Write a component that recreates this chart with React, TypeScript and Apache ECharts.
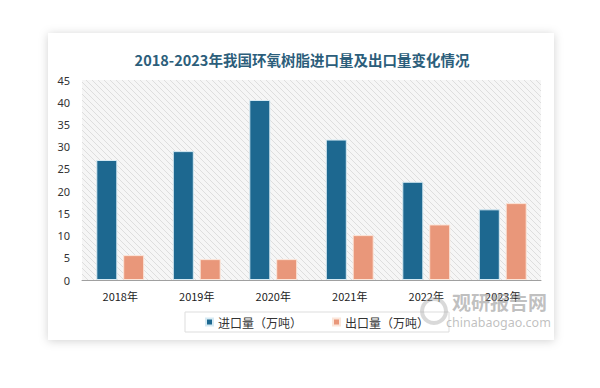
import React, { useEffect, useRef } from "react";
import * as echarts from "echarts";

const categories = ["2018年", "2019年", "2020年", "2021年", "2022年", "2023年"];
const importValues = [27.0, 29.0, 40.5, 31.6, 22.1, 15.9];
const exportValues = [5.6, 4.7, 4.7, 10.1, 12.5, 17.3];
const seriesNames = ["进口量（万吨）", "出口量（万吨）"];
const titleText = "2018-2023年我国环氧树脂进口量及出口量变化情况";

function hatchPattern(): string {
  const c = document.createElement("canvas");
  c.width = 6;
  c.height = 6;
  const ctx = c.getContext("2d");
  if (!ctx) return "";
  ctx.fillStyle = "#f6f6f6";
  ctx.fillRect(0, 0, 6, 6);
  ctx.strokeStyle = "#dedede";
  ctx.lineWidth = 1;
  ctx.beginPath();
  ctx.moveTo(-1, -1);
  ctx.lineTo(7, 7);
  ctx.moveTo(-1, 5);
  ctx.lineTo(1, 7);
  ctx.moveTo(5, -1);
  ctx.lineTo(7, 1);
  ctx.stroke();
  return c.toDataURL();
}

export default function App() {
  const ref = useRef<HTMLDivElement>(null);
  useEffect(() => {
    if (!ref.current) return;
    const chart = echarts.init(ref.current, undefined, { renderer: "svg" });
    const pat = hatchPattern();
    chart.setOption({
      animation: false,
      backgroundColor: "#ffffff",
      title: {
        text: titleText,
        left: 297,
        textAlign: "center",
        top: 47,
        textStyle: {
          fontSize: 14.5,
          fontWeight: "bold",
          color: "#2C5E7B",
          fontFamily: "Noto Sans CJK SC",
        },
      },
      grid: {
        left: 82,
        right: 59,
        top: 80,
        bottom: 108,
        show: true,
        borderWidth: 0,
        backgroundColor: pat ? { image: pat, repeat: "repeat" } : "#f2f2f2",
      },
      legend: {
        data: seriesNames,
        left: 185,
        top: 312,
        width: 232,
        itemWidth: 7,
        itemHeight: 7,
        icon: "rect",
        itemGap: 30,
        borderColor: "#dddddd",
        borderWidth: 1,
        padding: [4, 20, 4, 20],
        textStyle: { fontSize: 12, color: "#333", fontFamily: "Noto Sans CJK SC" },
      },
      xAxis: {
        type: "category",
        data: categories,
        axisLine: { lineStyle: { color: "#a0a0a0" } },
        axisTick: { show: false },
        axisLabel: { color: "#222", fontSize: 11, margin: 10, fontFamily: "Noto Sans CJK SC" },
      },
      yAxis: {
        type: "value",
        min: 0,
        max: 45,
        interval: 5,
        splitLine: { show: false },
        axisLine: { show: false },
        axisTick: { show: false },
        axisLabel: { color: "#333", fontSize: 11, margin: 12, fontFamily: "Noto Sans" },
      },
      series: [
        {
          name: seriesNames[0],
          type: "bar",
          data: importValues,
          barWidth: 21,
          barGap: "28%",
          itemStyle: { color: "#1D6890", borderColor: "#d6eaf3", borderWidth: 1 },
        },
        {
          name: seriesNames[1],
          type: "bar",
          data: exportValues,
          barWidth: 21,
          itemStyle: { color: "#E9977A", borderColor: "#fbe6da", borderWidth: 1 },
        },
      ],
      graphic: [
        {
          type: "rect",
          z: -10,
          silent: true,
          shape: { x: 48, y: 33, width: 506, height: 307 },
          style: {
            fill: "#ffffff",
            shadowBlur: 10,
            shadowColor: "rgba(0,0,0,0.18)",
            shadowOffsetX: 0,
            shadowOffsetY: 1,
          },
        },
        {
          type: "ring",
          z: 100,
          silent: true,
          shape: { cx: 434, cy: 311, r: 14, r0: 10 },
          style: { fill: "rgba(170,170,170,0.45)" },
        },
        {
          type: "text",
          z: 100,
          silent: true,
          left: 452,
          top: 292,
          style: {
            text: "观研报告网",
            fontSize: 19,
            fontWeight: "bold",
            fill: "rgba(150,150,150,0.6)",
            fontFamily: "Noto Sans CJK SC",
          },
        },
        {
          type: "text",
          z: 100,
          silent: true,
          left: 446,
          top: 316,
          style: {
            text: "chinabaogao.com",
            fontSize: 12.5,
            fill: "rgba(150,150,150,0.6)",
            fontFamily: "Noto Sans",
          },
        },
      ],
    });
    return () => chart.dispose();
  }, []);
  return (
    <div
      ref={ref}
      style={{ position: "fixed", left: 0, top: 0, width: 600, height: 388 }}
    />
  );
}
